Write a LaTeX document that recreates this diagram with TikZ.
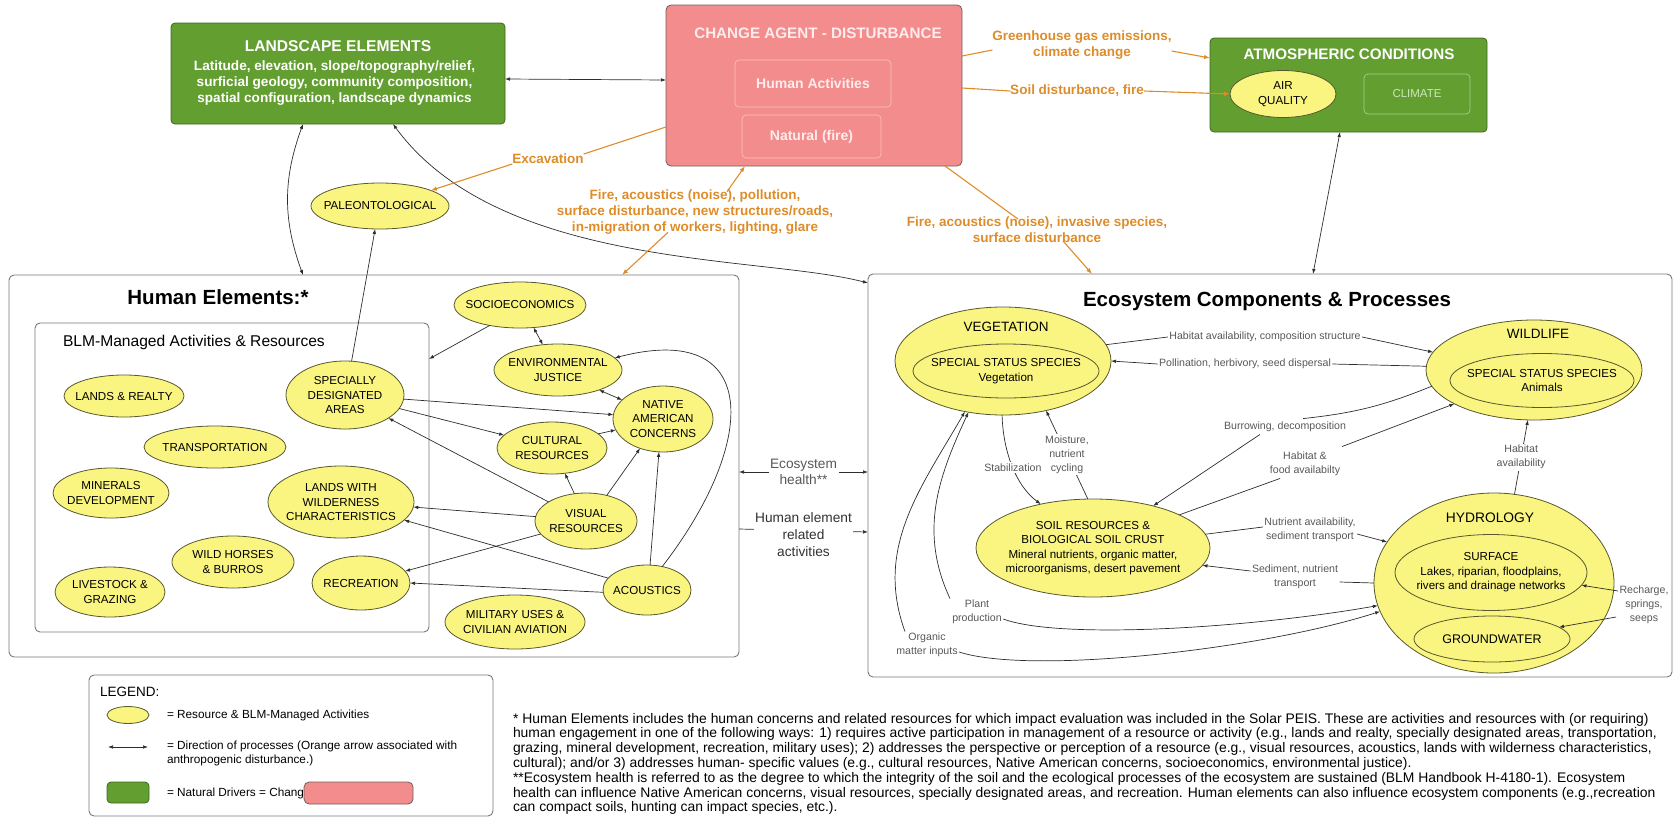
\documentclass[tikz,border=0pt]{standalone}
\usepackage{fontspec}
\setmainfont{Liberation Sans}
\usetikzlibrary{arrows.meta,shapes.geometric}
\newcommand\fsz[2]{\fontsize{#1}{#2}\selectfont}
\definecolor{landgreen}{RGB}{98,158,48}
\definecolor{greenedge}{RGB}{62,104,34}
\definecolor{agentpink}{RGB}{243,140,140}
\definecolor{pinkedge}{RGB}{118,92,92}
\definecolor{pinktext}{RGB}{255,236,236}
\definecolor{pinkline}{RGB}{252,196,196}
\definecolor{climline}{RGB}{165,208,135}
\definecolor{climtext}{RGB}{205,232,185}
\definecolor{resyellow}{RGB}{250,245,128}
\definecolor{resedge}{RGB}{88,88,48}
\definecolor{drvorange}{RGB}{222,140,42}
\definecolor{procgray}{RGB}{88,88,88}
\definecolor{darkgray}{RGB}{50,50,50}
\definecolor{linegray}{RGB}{45,45,45}
\definecolor{panelgray}{RGB}{120,120,120}
\begin{document}
\begin{tikzpicture}[x=1pt,y=-1pt,
  every node/.style={inner sep=0pt,outer sep=0pt},
  >={Latex[length=5pt,width=3.6pt]},
  greenbox/.style={rectangle,rounded corners=4pt,fill=landgreen,draw=greenedge,line width=0.8pt},
  pinkbox/.style={rectangle,rounded corners=5pt,fill=agentpink,draw=pinkedge,line width=0.8pt},
  pinkinner/.style={rectangle,rounded corners=4pt,draw=pinkline,line width=0.6pt,text=pinktext,font=\bfseries\fsz{14}{16}},
  climbox/.style={rectangle,rounded corners=4pt,draw=climline,line width=0.7pt,text=climtext,font=\fsz{11.5}{14}},
  panel/.style={rectangle,rounded corners=5pt,draw=panelgray,line width=0.9pt},
  res/.style={ellipse,fill=resyellow,draw=resedge,line width=0.8pt},
  inres/.style={ellipse,draw=resedge,line width=0.8pt},
  rt/.style={align=center,font=\fsz{11.6}{14.4}},
  conn/.style={draw=linegray,line width=0.7pt,->},
  dconn/.style={draw=linegray,line width=0.7pt,<->},
  plainline/.style={draw=linegray,line width=0.7pt},
  olink/.style={draw=drvorange,line width=1.1pt},
  oarrow/.style={olink,-{Latex[length=6pt,width=4.5pt]}},
  olabel/.style={text=drvorange,font=\bfseries\fsz{13.5}{16},align=center},
  plabel/.style={text=procgray,font=\fsz{10.6}{14},align=center,inner sep=1.5pt},
  plabelw/.style={plabel,fill=white}]

\useasboundingbox (0,0) rectangle (1675,817);

% ---------- top row: drivers ----------
\node[greenbox,minimum width=334,minimum height=101] (land) at (338,73.5) {};
\node[text=white,font=\bfseries\fsz{15.6}{18}] (landt) at (338,46) {LANDSCAPE ELEMENTS};
\node[text=white,font=\bfseries\fsz{13.6}{16.2},align=center] (landb) at (334.5,83) {Latitude, elevation, slope/topography/relief,\\surficial geology, community composition,\\spatial configuration, landscape dynamics};

\node[pinkbox,minimum width=296,minimum height=161] (ca) at (814,85.5) {};
\node[text=pinktext,font=\bfseries\fsz{15.2}{18}] (cat) at (818,33) {CHANGE AGENT - DISTURBANCE};
\node[pinkinner,minimum width=156,minimum height=47] (hact) at (813,83.5) {Human Activities};
\node[pinkinner,minimum width=139,minimum height=43] (nat) at (811.5,136.5) {Natural (fire)};

\node[greenbox,minimum width=277,minimum height=94] (atm) at (1348.5,85) {};
\node[text=white,font=\bfseries\fsz{15.2}{18}] (atmt) at (1349,54) {ATMOSPHERIC CONDITIONS};
\node[res,minimum width=106,minimum height=47,label={[rt]center:AIR\\QUALITY}] (aq) at (1283,94) {};
\node[climbox,minimum width=106,minimum height=40] (clim) at (1417,94) {CLIMATE};

% ---------- orange disturbance labels ----------
\node[olabel] (ghg) at (1082,45) {Greenhouse gas emissions,\\climate change};
\node[olabel] (sdf) at (1077,91) {Soil disturbance, fire};
\node[olabel] (excav) at (548,159) {Excavation};
\node[olabel] (firep) at (695,212) {Fire, acoustics (noise), pollution,\\surface disturbance, new structures/roads,\\in-migration of workers, lighting, glare};
\node[olabel] (firei) at (1037,230) {Fire, acoustics (noise), invasive species,\\surface disturbance};

\node[res,minimum width=138,minimum height=46,label={[rt]center:PALEONTOLOGICAL}] (paleo) at (380,206) {};

% ---------- human elements ----------
\node[panel,minimum width=730,minimum height=382] (human) at (374,466) {};
\node[font=\bfseries\fsz{20.5}{24}] (humt) at (218,297) {Human Elements:*};
\node[panel,minimum width=394,minimum height=309] (blm) at (232,477.5) {};
\node[anchor=west,font=\fsz{15.6}{18}] (blmt) at (63,342) {BLM-Managed Activities \& Resources};

\node[res,minimum width=120,minimum height=42,label={[rt]center:LANDS \& REALTY}] (lands) at (124,396) {};
\node[res,minimum width=142,minimum height=42,label={[rt]center:TRANSPORTATION}] (trans) at (215,447) {};
\node[res,minimum width=116,minimum height=50,label={[rt]center:MINERALS\\DEVELOPMENT}] (mins) at (111,493) {};
\node[res,minimum width=118,minimum height=68,label={[rt]center:SPECIALLY\\DESIGNATED\\AREAS}] (sda) at (345,395) {};
\node[res,minimum width=146,minimum height=72,label={[rt]center:LANDS WITH\\WILDERNESS\\CHARACTERISTICS}] (lwc) at (341,502) {};
\node[res,minimum width=122,minimum height=52,label={[rt]center:WILD HORSES\\\& BURROS}] (whb) at (233,562) {};
\node[res,minimum width=110,minimum height=50,label={[rt]center:LIVESTOCK \&\\GRAZING}] (lsg) at (110,592) {};
\node[res,minimum width=98,minimum height=54,label={[rt]center:RECREATION}] (rec) at (361,583) {};
\node[res,minimum width=132,minimum height=46,label={[rt]center:SOCIOECONOMICS}] (socio) at (520,305) {};
\node[res,minimum width=128,minimum height=52,label={[rt]center:ENVIRONMENTAL\\JUSTICE}] (ej) at (558,370) {};
\node[res,minimum width=100,minimum height=66,label={[rt]center:NATIVE\\AMERICAN\\CONCERNS}] (nac) at (663,419) {};
\node[res,minimum width=110,minimum height=52,label={[rt]center:CULTURAL\\RESOURCES}] (cult) at (552,448) {};
\node[res,minimum width=102,minimum height=56,label={[rt]center:VISUAL\\RESOURCES}] (vis) at (586,521) {};
\node[res,minimum width=88,minimum height=50,label={[rt]center:ACOUSTICS}] (acou) at (647,590) {};
\node[res,minimum width=140,minimum height=54,label={[rt]center:MILITARY USES \&\\CIVILIAN AVIATION}] (mil) at (515,622) {};

% ---------- ecosystem ----------
\node[panel,minimum width=804,minimum height=403] (eco) at (1270,475.5) {};
\node[font=\bfseries\fsz{20.5}{24}] (ecot) at (1267,301) {Ecosystem Components \& Processes};

\node[res,minimum width=216,minimum height=108] (veg) at (1003,361) {};
\node[font=\fsz{13.5}{16}] (vegt) at (1006,327) {VEGETATION};
\node[inres,minimum width=186,minimum height=54,label={[rt]center:SPECIAL STATUS SPECIES\\Vegetation}] (vegss) at (1006,371) {};

\node[res,minimum width=216,minimum height=100] (wild) at (1534,370) {};
\node[font=\fsz{13.5}{16}] (wildt) at (1538,334) {WILDLIFE};
\node[inres,minimum width=184,minimum height=54,label={[rt]center:SPECIAL STATUS SPECIES\\Animals}] (wildss) at (1542,380.5) {};

\node[res,minimum width=234,minimum height=98,label={[rt]center:SOIL RESOURCES \&\\BIOLOGICAL SOIL CRUST\\Mineral nutrients, organic matter,\\microorganisms, desert pavement}] (soil) at (1093,548) {};

\node[res,minimum width=240,minimum height=180] (hydro) at (1494,583) {};
\node[font=\fsz{13.8}{16}] (hydrot) at (1490,518) {HYDROLOGY};
\node[inres,minimum width=192,minimum height=76,label={[rt]center:SURFACE\\Lakes, riparian, floodplains,\\rivers and drainage networks}] (surf) at (1491,572.5) {};
\node[inres,minimum width=156,minimum height=46,label={[rt,font=\fsz{12.5}{15}]center:GROUNDWATER}] (gw) at (1492,639) {};

% process labels
\node[plabelw] (habcomp) at (1265,337) {Habitat availability, composition structure};
\node[plabelw] (poll) at (1245,364) {Pollination, herbivory, seed dispersal};
\node[plabel] (burrow) at (1285,427) {Burrowing, decomposition};
\node[plabel] (habfood) at (1305,464) {Habitat \&\\food availabilty};
\node[plabel] (nutav) at (1310,530) {Nutrient availability,\\sediment transport};
\node[plabel] (sedtr) at (1295,577) {Sediment, nutrient\\transport};
\node[plabel] (rech) at (1644,605) {Recharge,\\springs,\\seeps};
\node[plabel] (plant) at (977,612) {Plant\\production};
\node[plabel] (organic) at (927,645) {Organic\\matter inputs};

% ---------- connectors: drivers ----------
\draw[dconn] ([yshift=-5.5pt]land.east) -- ([yshift=5.5pt]ca.west);
\draw[dconn] ([xshift=-35pt]land.south) to[out=250,in=110] ([xshift=-71pt]human.north);
\draw[dconn] ([xshift=55pt]land.south) .. controls (500,270) and (760,255) .. ([yshift=-9pt]eco.north west);
\draw[dconn] ([xshift=-8.5pt]atm.south) -- ([xshift=43pt]eco.north);

\draw[olink] ([yshift=-41.5pt]ca.west) -- (excav.north east);
\draw[oarrow] (excav.south west) -- (paleo.17);
\draw[olink] ([yshift=29.5pt]ca.east) -- ([yshift=-5pt]ghg.west);
\draw[oarrow] ([yshift=-6pt]ghg.east) -- ([yshift=27pt]atm.west);
\draw[olink] ([yshift=-2.5pt]ca.east) -- (sdf.west);
\draw[oarrow] (sdf.east) -- (aq.west);
\draw[oarrow] ([xshift=32pt,yshift=-2pt]firep.north) -- ([xshift=-69pt]ca.south);
\draw[oarrow] ([xshift=-27pt,yshift=2pt]firep.south) -- ([xshift=248pt]human.north);
\draw[olink] ([xshift=131pt]ca.south) -- ([xshift=-19pt,yshift=-2pt]firei.north);
\draw[oarrow] ([xshift=26pt,yshift=2pt]firei.south) -- ([xshift=-178pt]eco.north);

% ---------- connectors: human elements ----------
\draw[conn] (sda.79) -- (paleo.258);
\draw[conn] (socio.214) -- ([yshift=118.5pt]blm.east);
\draw[dconn] (socio.301) -- (ej.121);
\draw[dconn] (ej.334) -- (nac.155);
\draw[conn] (sda.356) -- (nac.175);
\draw[conn] (sda.346) -- (cult.165);
\draw[conn] (vis.153) -- (sda.332);
\draw[conn] (cult.17) -- (nac.193);
\draw[conn] (vis.113) -- (cult.297);
\draw[conn] (vis.51) -- (nac.232);
\draw[conn] (acou.83) -- (nac.263);
\draw[conn] (acou.57) .. controls (760,440) and (760,320) .. (ej.12);
\draw[conn] (vis.175) -- (lwc.356);
\draw[conn] (acou.163) -- (lwc.344);
\draw[conn] (vis.196) -- (rec.15);
\draw[conn] (acou.183) -- (rec.0);

% ---------- connectors: between panels ----------
\draw[dconn] ([yshift=-6pt]human.east) -- node[plabelw,text=procgray,font=\fsz{13.7}{16}] {Ecosystem\\health**} ([yshift=3.5pt]eco.west);
\draw[conn] ([yshift=-63pt]human.east) -- node[plabelw,pos=.5,yshift=-4pt,text=darkgray,font=\fsz{13.7}{17}] {Human element\\related\\activities} ([yshift=-56.5pt]eco.west);

% ---------- connectors: ecosystem ----------
\draw[plainline] (veg.9.5) -- (habcomp.west);
\draw[conn] (habcomp.east) -- (wild.170);
\draw[plainline] (wild.178) -- (poll.east);
\draw[conn] (poll.west) -- (veg.0);
\draw[plainline] (wild.189) to[bend left=8] ([xshift=18pt,yshift=2pt]burrow.north);
\draw[conn] ([xshift=-25pt,yshift=-1pt]burrow.south) -- (soil.35);
\draw[plainline] (soil.21) -- ([xshift=-25pt,yshift=-1pt]habfood.south);
\draw[conn] ([xshift=37pt,yshift=4pt]habfood.north) -- (wild.203);
\draw[conn] (veg.269) .. controls (1003,450) and (1015,485) .. node[plabelw,pos=.52] {Stabilization} (soil.140);
\draw[conn] (soil.96) -- node[plabelw] {Moisture,\\nutrient\\cycling} (veg.311);
\draw[plainline] (soil.7) -- ([yshift=3pt]nutav.west);
\draw[conn] ([yshift=-4pt]nutav.east) -- (hydro.159.5);
\draw[plainline] (hydro.180.5) -- ([yshift=-5pt]sedtr.east);
\draw[conn] ([yshift=6pt]sedtr.west) -- (soil.351.4);
\draw[conn] (hydro.77.5) -- node[plabelw] {Habitat\\availability} (wild.263.4);
\draw[conn] ([yshift=14pt]rech.west) -- (surf.352);
\draw[conn] ([xshift=-2pt,yshift=-12pt]rech.west) -- (gw.10);
\draw[conn] ([xshift=-27pt]plant.north) to[out=115,in=245] (veg.236);
\draw[conn] ([yshift=-7pt]plant.east) .. controls (1060,640) and (1250,628) .. (hydro.191);
\draw[conn] ([xshift=-22pt]organic.north) to[out=110,in=240] (veg.233);
\draw[conn] ([yshift=-7pt]organic.east) .. controls (1030,675) and (1260,650) .. (hydro.194);

% ---------- legend ----------
\node[panel,minimum width=404,minimum height=141] (legend) at (291,745.5) {};
\node[anchor=west,font=\fsz{13.5}{15}] (legt) at (100,692) {LEGEND:};
\node[res,minimum width=42,minimum height=17] (legres) at (128,715) {};
\node[anchor=west,font=\fsz{11.8}{13.5}] (legrest) at (167,715) {= Resource \& BLM-Managed Activities};
\coordinate (legA) at (108,747);
\coordinate (legB) at (148,747);
\draw[dconn] (legA) -- (legB);
\node[anchor=west,align=left,font=\fsz{11.8}{13.5}] (legdir) at (167,753.5) {= Direction of processes (Orange arrow associated with\\anthropogenic disturbance.)};
\node[greenbox,minimum width=42,minimum height=21] (leggreen) at (128,792.5) {};
\node[anchor=west,font=\fsz{11.8}{13.5}] (legnat) at (167,793) {= Natural Drivers = Chang};
\node[pinkbox,minimum width=109,minimum height=22,anchor=west] (legpink) at (legnat.east) {};

% ---------- footnotes ----------
\node[anchor=north west,align=left,font=\fsz{13.9}{14.8}] (notes) at (513,713) {* Human Elements includes the human concerns and related resources for which impact evaluation was included in the Solar PEIS. These are activities and resources with (or requiring)\\
human engagement in one of the following ways: 1) requires active participation in management of a resource or activity (e.g., lands and realty, specially designated areas, transportation,\\
grazing, mineral development, recreation, military uses); 2) addresses the perspective or perception of a resource (e.g., visual resources, acoustics, lands with wilderness characteristics,\\
cultural); and/or 3) addresses human- specific values (e.g., cultural resources, Native American concerns, socioeconomics, environmental justice).\\
**Ecosystem health is referred to as the degree to which the integrity of the soil and the ecological processes of the ecosystem are sustained (BLM Handbook H-4180-1). Ecosystem\\
health can influence Native American concerns, visual resources, specially designated areas, and recreation. Human elements can also influence ecosystem components (e.g.,recreation\\
can compact soils, hunting can impact species, etc.).};
\end{tikzpicture}
\end{document}
